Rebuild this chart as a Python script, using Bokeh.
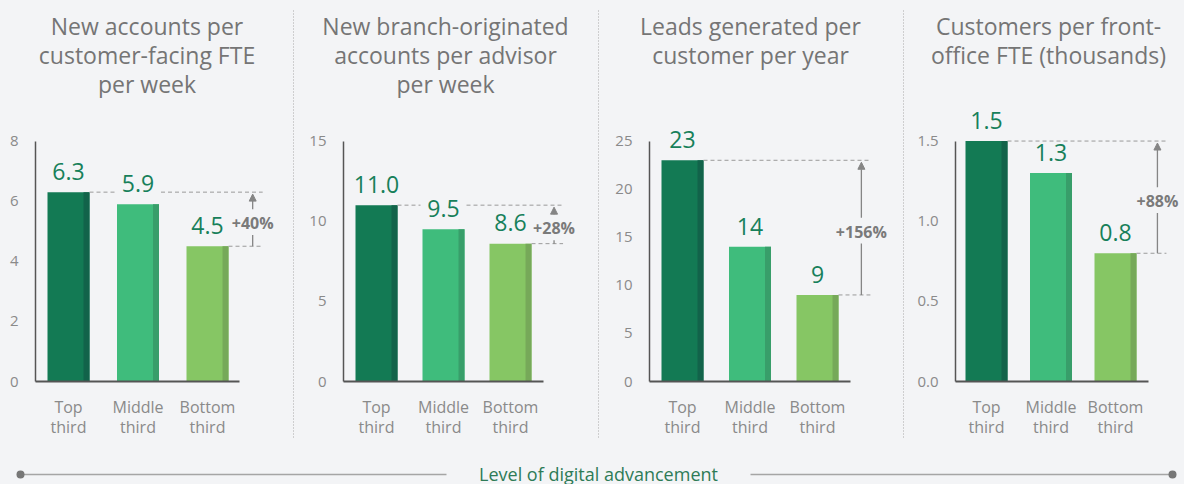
from bokeh.plotting import figure
from bokeh.layouts import row, column
from bokeh.models import (Range1d, FixedTicker, Arrow, NormalHead,
                          NumeralTickFormatter)
from bokeh.core.properties import value
from bokeh.embed import file_html
from bokeh.resources import INLINE

# ---------------- data ----------------
categories = ["Top\nthird", "Middle\nthird", "Bottom\nthird"]
titles = [
    ["New accounts per", "customer-facing FTE", "per week"],
    ["New branch-originated", "accounts per advisor", "per week"],
    ["Leads generated per", "customer per year"],
    ["Customers per front-", "office FTE (thousands)"],
]
accounts_per_fte = [6.3, 5.9, 4.5]
branch_accounts_per_advisor = [11.0, 9.5, 8.6]
leads_per_customer = [23, 14, 9]
customers_per_fte_k = [1.5, 1.3, 0.8]
series = [accounts_per_fte, branch_accounts_per_advisor, leads_per_customer, customers_per_fte_k]
label_formats = ["{:.1f}", "{:.1f}", "{:.0f}", "{:.1f}"]
uplift = ["+40%", "+28%", "+156%", "+88%"]
y_ticks = [[0, 2, 4, 6, 8], [0, 5, 10, 15], [0, 5, 10, 15, 20, 25], [0, 0.5, 1.0, 1.5]]
y_tick_formats = [None, None, None, "0.0"]
x_title = "Level of digital advancement"

# ---------------- style / layout ----------------
BG = "#f3f4f6"
FONT = "Open Sans"
BAR_COLORS = ["#137a54", "#3fbc7c", "#86c664"]
SHADE_COLORS = ["#12634a", "#389e6a", "#76a959"]
VALUE_COLOR = "#17805a"
GREY_TXT = "#8a8a8a"
TITLE_COLOR = "#757575"

PANEL_W = [288, 295, 295, 276]
SEP_W = 10
TITLE_H = 98
CHART_H = 342
FRAME_H = 286          # frame top to baseline
AXIS_TOP = 43          # frame top to top of value axis
AXIS_LEFT = [35, 45, 46, 47]
FIRST_OFF = [33, 33, 33, 31]
STEP_PX = [69.5, 67, 67.5, 64.5]
BASE_END = [204, 200, 201, 193]
BAR_PX = 42
SHADE_PX = 6
TITLE_CX = [146.5, 147, 147, 140]
TITLE_BASE = [25, 54, 83]
VALUE_GAP = 21
DASH_GAP = [True, True, False, False]
BOTTOM_H = 44


def blank_fig(w, h):
    f = figure(width=w, height=h, x_range=Range1d(0, w), y_range=Range1d(h, 0),
               output_backend="svg", toolbar_location=None,
               x_axis_location=None, y_axis_location=None, min_border=0,
               frame_align=False,
               background_fill_color=BG, border_fill_color=BG, outline_line_color=None)
    f.grid.visible = False
    return f


def make_title(i):
    t = blank_fig(PANEL_W[i], TITLE_H)
    n = len(titles[i])
    t.text(x=[TITLE_CX[i]] * n, y=TITLE_BASE[:n], text=titles[i],
           text_align="center", text_baseline="alphabetic",
           text_font=value(FONT), text_font_size="23px", text_color=TITLE_COLOR)
    return t


def make_panel(i):
    vals = series[i]
    amax = y_ticks[i][-1]
    ypu = (FRAME_H - AXIS_TOP) / amax
    step = STEP_PX[i]
    xs = -FIRST_OFF[i] / step
    xe = xs + (PANEL_W[i] - AXIS_LEFT[i]) / step
    ye = FRAME_H / ypu

    p = figure(width=PANEL_W[i], height=CHART_H,
               x_range=Range1d(xs, xe), y_range=Range1d(0, ye),
               output_backend="svg", toolbar_location=None,
               min_border_left=AXIS_LEFT[i], min_border_right=0,
               min_border_top=0, min_border_bottom=CHART_H - FRAME_H,
               frame_align=False,
               background_fill_color=BG, border_fill_color=BG,
               outline_line_color=None)
    p.grid.visible = False

    xa = p.xaxis[0]
    xa.ticker = FixedTicker(ticks=[0, 1, 2])
    xa.major_label_overrides = {k: c for k, c in enumerate(categories)}
    xa.bounds = (xs, xs + BASE_END[i] / step)
    xa.axis_line_color = "#555555"
    xa.axis_line_width = 2
    xa.major_tick_line_color = None
    xa.minor_tick_line_color = None
    xa.major_label_standoff = 8
    xa.major_label_text_font = FONT
    xa.major_label_text_font_size = "16px"
    xa.major_label_text_line_height = 0.92
    xa.major_label_text_color = GREY_TXT

    ya = p.yaxis[0]
    ya.ticker = FixedTicker(ticks=y_ticks[i])
    if y_tick_formats[i]:
        ya.formatter = NumeralTickFormatter(format=y_tick_formats[i])
    ya.bounds = (0, amax)
    ya.axis_line_color = "#555555"
    ya.axis_line_width = 1.5
    ya.major_tick_line_color = None
    ya.minor_tick_line_color = None
    ya.major_label_standoff = 11
    ya.major_label_text_font = FONT
    ya.major_label_text_font_size = "15px"
    ya.major_label_text_color = GREY_TXT

    bw = BAR_PX / step
    sw = SHADE_PX / step
    xpos = [0, 1, 2]
    p.vbar(x=xpos, top=vals, width=bw, bottom=0, fill_color=BAR_COLORS, line_color=None)
    p.vbar(x=[k + bw / 2 - sw / 2 for k in xpos], top=vals, width=sw, bottom=0,
           fill_color=SHADE_COLORS, line_color=None)

    p.text(x=xpos, y=[v + VALUE_GAP / ypu for v in vals],
           text=[label_formats[i].format(v) for v in vals],
           text_align="center", text_baseline="alphabetic",
           text_font=value(FONT), text_font_size="23px", text_color=VALUE_COLOR)

    top_v, low_v = vals[0], vals[2]
    x_arrow = 2.65
    x_end = x_arrow + 10 / step
    x0s, x1s, y0s = [], [], []
    if DASH_GAP[i]:
        x0s += [bw / 2, 1 + bw / 2 + 2 / step]
        x1s += [1 - bw / 2 - 2 / step, x_end]
        y0s += [top_v, top_v]
    else:
        x0s.append(bw / 2)
        x1s.append(x_end)
        y0s.append(top_v)
    x0s.append(2 + bw / 2)
    x1s.append(x_end - 1 / step)
    y0s.append(low_v)
    p.segment(x0=x0s, y0=y0s, x1=x1s, y1=y0s, line_color="#9a9a9a",
              line_width=1, line_dash="4 3")

    mid = (top_v + low_v) / 2
    yc = mid - 4 / ypu
    p.add_layout(Arrow(end=NormalHead(size=7, fill_color="#858585", line_color="#858585"),
                       x_start=x_arrow, y_start=yc + 14 / ypu,
                       x_end=x_arrow, y_end=top_v - 2 / ypu,
                       line_color="#858585", line_width=1.3))
    p.segment(x0=[x_arrow], y0=[yc - 12 / ypu], x1=[x_arrow], y1=[low_v],
              line_color="#858585", line_width=1.3)
    p.text(x=[x_arrow], y=[yc], text=[uplift[i]], text_align="center",
           text_baseline="middle", text_font=value(FONT), text_font_style="bold",
           text_font_size="16px", text_color="#7a7a7a")
    return p


def make_sep():
    h = TITLE_H + CHART_H
    s = blank_fig(SEP_W, h)
    s.segment(x0=[SEP_W / 2], y0=[10], x1=[SEP_W / 2], y1=[h - 2],
              line_color="#a8a8a8", line_width=1, line_dash="1 2")
    return s


STY = {"background-color": BG}
cols = [column(make_title(i), make_panel(i), spacing=0, styles=STY) for i in range(4)]
top_row = row(cols[0], make_sep(), cols[1], make_sep(), cols[2], make_sep(), cols[3],
              spacing=0, styles=STY)

TOTAL_W = sum(PANEL_W) + 3 * SEP_W
b = blank_fig(TOTAL_W, BOTTOM_H)
LINE_Y = 34
CX = 598
b.segment(x0=[20, CX + 152], y0=[LINE_Y, LINE_Y], x1=[CX - 152, TOTAL_W - 12],
          y1=[LINE_Y, LINE_Y], line_color="#a5a5a5", line_width=1.5)
b.scatter(x=[20, TOTAL_W - 12], y=[LINE_Y, LINE_Y], size=8, fill_color="#777777",
          line_color=None)
b.text(x=[CX], y=[LINE_Y - 1], text=[x_title], text_align="center",
       text_baseline="middle", text_font=value(FONT), text_font_size="18px",
       text_color="#2e7b56")

layout = column(top_row, b, spacing=0, styles=STY)
open("out.html", "w").write(file_html(layout, INLINE))
